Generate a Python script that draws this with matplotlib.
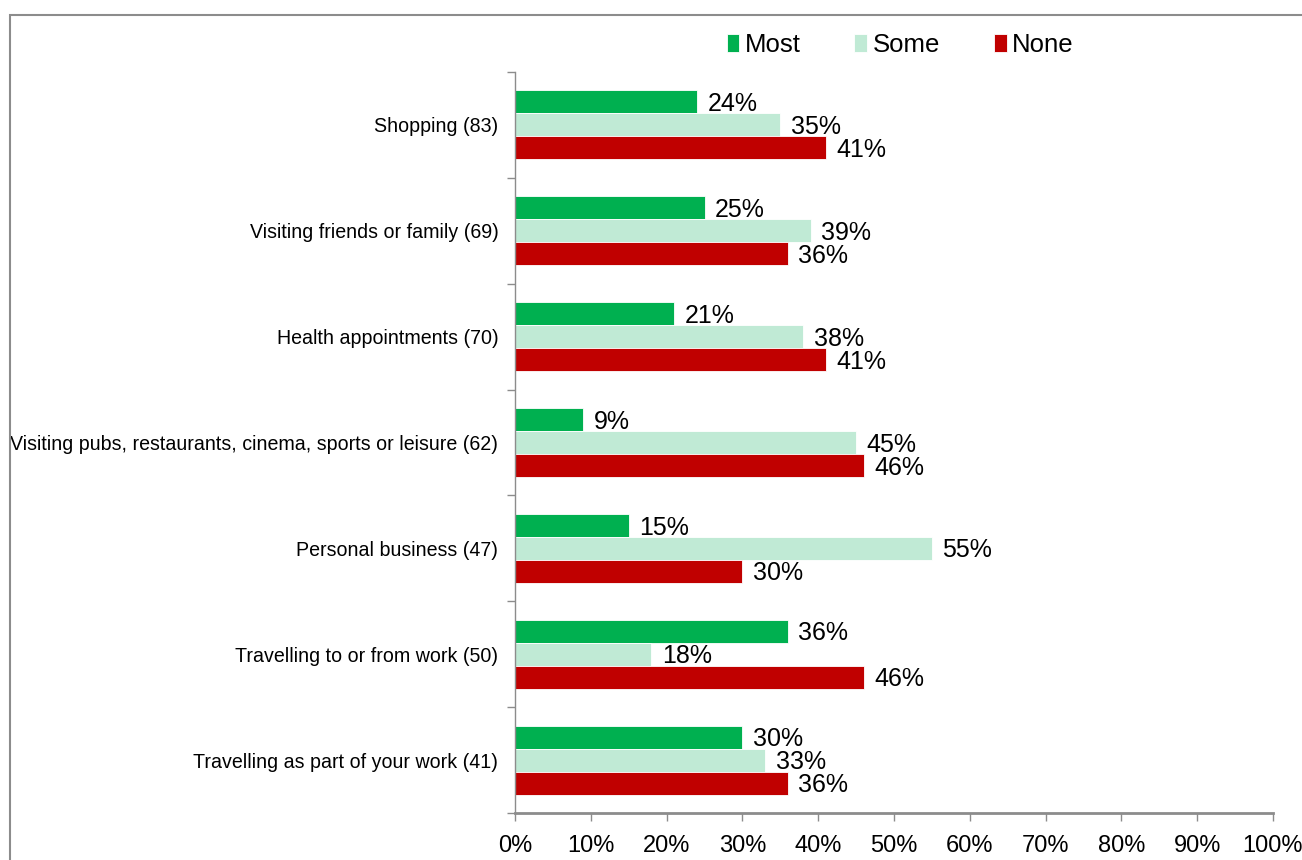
import matplotlib
matplotlib.use("Agg")
import matplotlib.pyplot as plt
from matplotlib.patches import Rectangle
import numpy as np

plt.rcParams['font.family'] = ['Liberation Sans', 'DejaVu Sans']

categories = [
    "Shopping (83)",
    "Visiting friends or family (69)",
    "Health appointments (70)",
    "Visiting pubs, restaurants, cinema, sports or leisure (62)",
    "Personal business (47)",
    "Travelling to or from work (50)",
    "Travelling as part of your work (41)",
]
most = [24, 25, 21, 9, 15, 36, 30]
some = [35, 39, 38, 45, 55, 18, 33]
none = [41, 36, 41, 46, 30, 46, 36]
series_names = ["Most", "Some", "None"]
colors = ["#00B050", "#C0EAD5", "#C00000"]
x_ticks = [0, 10, 20, 30, 40, 50, 60, 70, 80, 90, 100]

fig = plt.figure(figsize=(13.02, 8.6), dpi=100)
ax = fig.add_axes([515 / 1302, 1 - 813 / 860, (1273 - 515) / 1302, (813 - 72) / 860])

# outer chart frame
fig.patches.append(Rectangle((10 / 1302, -0.05), 1.1, 1 - 15 / 860 + 0.05,
                             transform=fig.transFigure, fill=False,
                             edgecolor="#8c8c8c", linewidth=1.5, zorder=0))

n = len(categories)
y = np.arange(n)
h = 0.217
series = [most, some, none]
for i, (vals, name, c) in enumerate(zip(series, series_names, colors)):
    pos = y + (i - 1) * h
    ax.barh(pos, vals, height=h, color=c, edgecolor="white", linewidth=0.6,
            label=name)
    for p, v in zip(pos, vals):
        ax.text(v + 1.4, p + 0.02, f"{v}%", va="center", ha="left",
                fontsize=18, color="black")

ax.set_xlim(0, 100)
ax.set_ylim(n - 0.5, -0.5)
ax.set_xticks(x_ticks)
ax.set_xticklabels([f"{t}%" for t in x_ticks], fontsize=17)
ax.tick_params(axis="x", direction="out", length=6, width=1, color="#8c8c8c",
               pad=10)

# boundaries between categories carry the tick marks, labels sit at centres
ax.set_yticks(np.arange(-0.5, n, 1.0))
ax.set_yticklabels([])
ax.set_yticks(y, minor=True)
ax.set_yticklabels(categories, minor=True, fontsize=14.1)
ax.tick_params(axis="y", which="major", direction="out", length=6, width=1,
               color="#8c8c8c")
ax.tick_params(axis="y", which="minor", length=0, pad=12)

for s in ["top", "right"]:
    ax.spines[s].set_visible(False)
ax.spines["left"].set_color("#8c8c8c")
ax.spines["left"].set_linewidth(1)
ax.spines["bottom"].set_color("#8c8c8c")
ax.spines["bottom"].set_linewidth(2)

leg = fig.legend(loc="center", bbox_to_anchor=(900 / 1302, 1 - 45 / 860),
                 ncol=3, frameon=False, fontsize=18.5, handlelength=0.5,
                 handleheight=0.7, handletextpad=0.2, columnspacing=2.1)

fig.savefig("out.png", dpi=100)
